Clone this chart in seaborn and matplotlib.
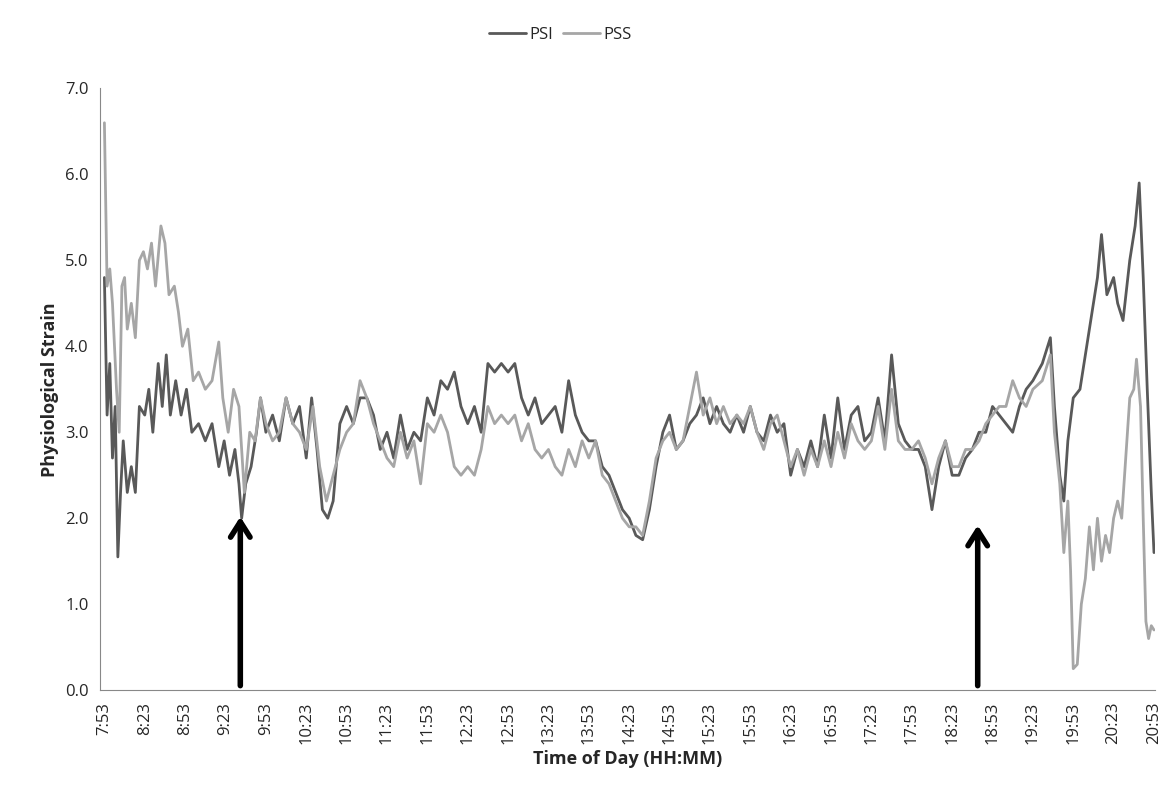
import matplotlib
matplotlib.use("Agg")
import matplotlib.pyplot as plt
import seaborn as sns
import pandas as pd
import numpy as np

# (minutes after 7:53, value)
psi_points = [(0,4.8),(2,3.2),(4,3.8),(6,2.7),(8,3.3),(10,1.55),(12,2.3),(14,2.9),(17,2.3),(20,2.6),(23,2.3),(26,3.3),(30,3.2),
 (33,3.5),(36,3.0),(40,3.8),(43,3.3),(46,3.9),(49,3.2),(53,3.6),(57,3.2),(61,3.5),(65,3.0),(70,3.1),
 (75,2.9),(80,3.1),(85,2.6),(89,2.9),(93,2.5),(97,2.8),(100,2.4),(102,2.0),(105,2.4),(109,2.6),(113,3.0),(116,3.4),(120,3.0),
 (125,3.2),(130,2.9),(135,3.4),(140,3.1),(145,3.3),(150,2.7),(154,3.4),(158,2.8),(162,2.1),(166,2.0),(170,2.2),(175,3.1),(180,3.3),
 (185,3.1),(190,3.4),(195,3.4),(200,3.2),(205,2.8),(210,3.0),(215,2.7),(220,3.2),(225,2.8),(230,3.0),(235,2.9),(240,3.4),(245,3.2),
 (250,3.6),(255,3.5),(260,3.7),(265,3.3),(270,3.1),(275,3.3),(280,3.0),(285,3.8),(290,3.7),(295,3.8),(300,3.7),(305,3.8),(310,3.4),
 (315,3.2),(320,3.4),(325,3.1),(330,3.2),(335,3.3),(340,3.0),(345,3.6),(350,3.2),(355,3.0),(360,2.9),(365,2.9),(370,2.6),(375,2.5),
 (380,2.3),(385,2.1),(390,2.0),(395,1.8),(400,1.75),(405,2.1),(410,2.6),(415,3.0),(420,3.2),(425,2.8),(430,2.9),(435,3.1),(440,3.2),
 (445,3.4),(450,3.1),(455,3.3),(460,3.1),(465,3.0),(470,3.2),(475,3.0),(480,3.3),(485,3.0),(490,2.9),(495,3.2),(500,3.0),(505,3.1),
 (510,2.5),(515,2.8),(520,2.6),(525,2.9),(530,2.6),(535,3.2),(540,2.7),(545,3.4),(550,2.8),(555,3.2),(560,3.3),(565,2.9),(570,3.0),
 (575,3.4),(580,2.9),(585,3.9),(590,3.1),(595,2.9),(600,2.8),(605,2.8),(610,2.6),(615,2.1),(620,2.6),(625,2.9),(630,2.5),(635,2.5),
 (640,2.7),(645,2.8),(650,3.0),(655,3.0),(660,3.3),(665,3.2),(670,3.1),(675,3.0),(680,3.3),(685,3.5),(690,3.6),(697,3.8),(703,4.1),
 (706,3.3),(710,2.5),(713,2.2),(716,2.9),(720,3.4),(725,3.5),(730,4.0),(735,4.5),(738,4.8),(741,5.3),(745,4.6),(750,4.8),(753,4.5),
 (757,4.3),(762,5.0),(766,5.4),(769,5.9),(772,4.8),(775,3.5),(778,2.3),(780,1.6)]

pss_points = [(0,6.6),(2,4.7),(4,4.9),(6,4.5),(9,3.5),(11,3.0),(13,4.7),(15,4.8),(17,4.2),(20,4.5),(23,4.1),(26,5.0),(29,5.1),
 (32,4.9),(35,5.2),(38,4.7),(42,5.4),(45,5.2),(48,4.6),(52,4.7),(55,4.4),(58,4.0),(62,4.2),(66,3.6),(70,3.7),(75,3.5),(80,3.6),
 (85,4.05),(88,3.4),(92,3.0),(96,3.5),(100,3.3),(104,2.3),(108,3.0),(112,2.9),(116,3.4),(120,3.1),(125,2.9),(130,3.0),(135,3.4),
 (140,3.1),(145,3.0),(150,2.8),(155,3.3),(160,2.6),(165,2.2),(170,2.5),(175,2.8),(180,3.0),(185,3.1),(190,3.6),(195,3.4),(200,3.1),
 (205,2.9),(210,2.7),(215,2.6),(220,3.0),(225,2.7),(230,2.9),(235,2.4),(240,3.1),(245,3.0),(250,3.2),(255,3.0),(260,2.6),(265,2.5),
 (270,2.6),(275,2.5),(280,2.8),(285,3.3),(290,3.1),(295,3.2),(300,3.1),(305,3.2),(310,2.9),(315,3.1),(320,2.8),(325,2.7),(330,2.8),
 (335,2.6),(340,2.5),(345,2.8),(350,2.6),(355,2.9),(360,2.7),(365,2.9),(370,2.5),(375,2.4),(380,2.2),(385,2.0),(390,1.9),(395,1.9),
 (400,1.8),(405,2.2),(410,2.7),(415,2.9),(420,3.0),(425,2.8),(430,2.9),(435,3.3),(440,3.7),(445,3.2),(450,3.4),(455,3.1),(460,3.3),
 (465,3.1),(470,3.2),(475,3.1),(480,3.3),(485,3.0),(490,2.8),(495,3.1),(500,3.2),(505,2.9),(510,2.6),(515,2.8),(520,2.5),(525,2.8),
 (530,2.6),(535,2.9),(540,2.6),(545,3.0),(550,2.7),(555,3.1),(560,2.9),(565,2.8),(570,2.9),(575,3.3),(580,2.8),(585,3.5),(590,2.9),
 (595,2.8),(600,2.8),(605,2.9),(610,2.7),(615,2.4),(620,2.7),(625,2.9),(630,2.6),(635,2.6),(640,2.8),(645,2.8),(650,2.9),(655,3.1),
 (660,3.2),(665,3.3),(670,3.3),(675,3.6),(680,3.4),(685,3.3),(690,3.5),(697,3.6),(703,3.9),(706,3.0),(710,2.4),(713,1.6),(716,2.2),
 (718,1.4),(720,0.25),(723,0.3),(726,1.0),(729,1.3),(732,1.9),(735,1.4),(738,2.0),(741,1.5),(744,1.8),(747,1.6),(750,2.0),(753,2.2),
 (756,2.0),(759,2.7),(762,3.4),(765,3.5),(767,3.85),(770,3.3),(772,2.0),(774,0.8),(776,0.6),(778,0.75),(780,0.7)]

tick_labels = [f"{(7*60+53+30*i)//60}:{(7*60+53+30*i)%60:02d}" for i in range(27)]

df = pd.concat([
    pd.DataFrame(psi_points, columns=["min", "val"]).assign(series="PSI"),
    pd.DataFrame(pss_points, columns=["min", "val"]).assign(series="PSS"),
])

sns.set_style("white")
plt.rcParams['font.family'] = ['Open Sans', 'DejaVu Sans']
fig = plt.figure(figsize=(11.67, 8.11), dpi=100)
ax = fig.add_axes([0.086, 0.149, 0.904, 0.742])
sns.lineplot(data=df, x="min", y="val", hue="series", palette={"PSI": "#595959", "PSS": "#a6a6a6"},
             linewidth=2.0, ax=ax, sort=False, legend=True)
ax.set_xlim(-3, 781)
ax.set_ylim(0, 7)
ax.set_yticks(np.arange(0, 7.01, 1.0))
ax.set_yticklabels([f"{v:.1f}" for v in np.arange(0, 7.01, 1.0)], fontsize=12)
ax.set_xticks([30*i for i in range(27)])
ax.set_xticklabels(tick_labels, rotation=90, fontsize=12)
ax.tick_params(axis='x', direction='out', length=5, color='#888888')
ax.tick_params(axis='y', direction='out', length=5, color='#888888')
for s in ['top', 'right']:
    ax.spines[s].set_visible(False)
for s in ['left', 'bottom']:
    ax.spines[s].set_color('#888888')
ax.set_xlabel("Time of Day (HH:MM)", fontsize=13, fontweight='bold')
ax.set_ylabel("Physiological Strain", fontsize=13, fontweight='bold')
handles, labels = ax.get_legend_handles_labels()
ax.get_legend().remove()
fig.legend(handles, labels, loc='upper center', bbox_to_anchor=(0.48, 0.985), ncol=2, frameon=False, fontsize=12,
           handlelength=2.2, columnspacing=0.6, handletextpad=0.2)
for m, tip in [(101, 2.05), (649, 1.95)]:
    ax.annotate("", xy=(m, tip), xytext=(m, 0.02),
                arrowprops=dict(arrowstyle="->,head_width=0.7,head_length=1.1", color='black', lw=4))
fig.savefig("out.png", dpi=100)
